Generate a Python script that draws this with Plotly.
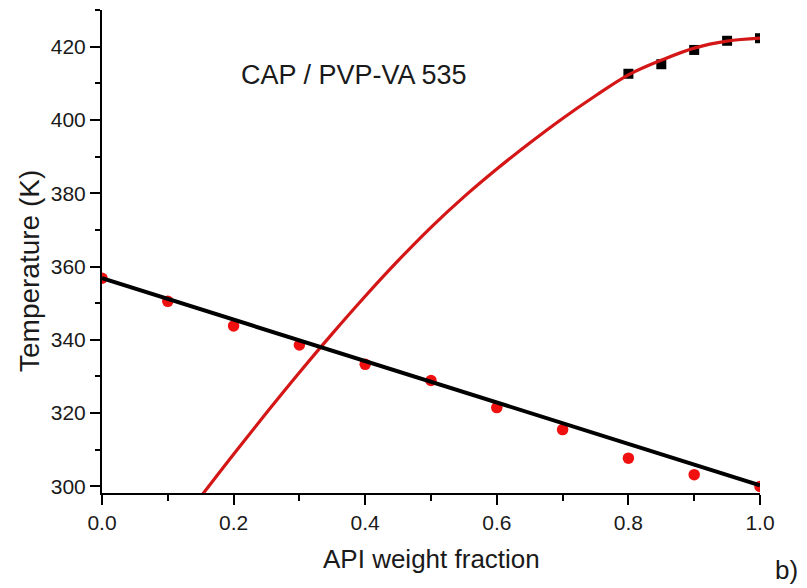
import plotly.graph_objects as go

# Data
tg_x = [0.0, 0.1, 0.2, 0.3, 0.4, 0.5, 0.6, 0.7, 0.8, 0.9, 1.0]
tg_T = [356.8, 350.5, 343.8, 338.6, 333.3, 328.9, 321.5, 315.5, 307.7, 303.2, 300.0]

fit_x = [0.0, 1.0]
fit_T = [356.8, 300.3]

sol_x = [0.8, 0.85, 0.9, 0.95, 1.0]
sol_T = [412.6, 415.2, 419.1, 421.6, 422.3]

curve_x = [0.15, 0.2, 0.25, 0.3, 0.35, 0.4, 0.45, 0.5, 0.55, 0.6, 0.65, 0.7, 0.75, 0.8, 0.85, 0.9, 0.95, 1.0]
curve_T = [297.2, 308.8, 320.1, 331.1, 341.7, 351.9, 361.6, 370.7, 379.0, 386.6, 393.7, 400.4, 406.6, 412.3, 416.3, 419.6, 421.5, 422.3]

x_ticks = [0.0, 0.2, 0.4, 0.6, 0.8, 1.0]
y_ticks = [300, 320, 340, 360, 380, 400, 420]

FONT = "Liberation Sans, Arial, sans-serif"
TXT = "#1a1a1a"

fig = go.Figure()
fig.add_trace(go.Scatter(x=sol_x, y=sol_T, mode="markers",
                         marker=dict(symbol="square", size=10, color="black"),
                         showlegend=False))
fig.add_trace(go.Scatter(x=curve_x, y=curve_T, mode="lines",
                         line=dict(color="#d41616", width=3.2, shape="spline", smoothing=1),
                         showlegend=False))
fig.add_trace(go.Scatter(x=tg_x, y=tg_T, mode="markers",
                         marker=dict(symbol="circle", size=11.5, color="#f01010"),
                         showlegend=False))
fig.add_trace(go.Scatter(x=fit_x, y=fit_T, mode="lines",
                         line=dict(color="black", width=4),
                         showlegend=False))

fig.update_layout(
    width=807, height=588,
    margin=dict(l=102, r=47, t=10, b=95),
    plot_bgcolor="white", paper_bgcolor="white",
    font=dict(family=FONT, color=TXT),
    xaxis=dict(range=[0, 1], tickvals=x_ticks, ticktext=[f"{v:.1f}" for v in x_ticks],
               showline=True, linecolor="black", linewidth=2, showgrid=False, zeroline=False,
               ticks="outside", ticklen=10, tickwidth=1.5, tickcolor="black",
               tickfont=dict(size=21, family=FONT, color=TXT),
               minor=dict(dtick=0.1, ticks="outside", ticklen=6, tickwidth=1.5, tickcolor="black")),
    yaxis=dict(range=[298.2, 430], tickvals=y_ticks,
               showline=True, linecolor="black", linewidth=2, showgrid=False, zeroline=False,
               ticks="outside", ticklen=10, tickwidth=1.5, tickcolor="black",
               tickfont=dict(size=21, family=FONT, color=TXT),
               minor=dict(tick0=300, dtick=10, ticks="outside", ticklen=5, tickwidth=1.5, tickcolor="black")),
    annotations=[
        dict(text="CAP / PVP-VA 535", x=354, y=75, showarrow=False,
             font=dict(size=27, family=FONT, color=TXT)),
        dict(text="API weight fraction", x=431, y=559, showarrow=False,
             font=dict(size=26, family=FONT, color=TXT)),
        dict(text="Temperature (K)", x=29, y=271, showarrow=False, textangle=-90,
             font=dict(size=28, family=FONT, color=TXT)),
        dict(text="b)", x=786, y=570, showarrow=False,
             font=dict(size=26, family=FONT, color=TXT)),
    ],
)

# convert pixel annotation coordinates to paper coordinates
pl, pr, pt, pb = 102, 807 - 47, 10, 588 - 95
for a in fig.layout.annotations:
    px, py = a.x, a.y
    a.x = (px - pl) / (pr - pl)
    a.y = (pb - py) / (pb - pt)
    a.xref = "paper"
    a.yref = "paper"
    a.xanchor = "center"
    a.yanchor = "middle"

fig.write_html("out.html", config={"displayModeBar": False},
               post_script="document.body.style.margin='0';document.body.style.overflow='hidden';")
